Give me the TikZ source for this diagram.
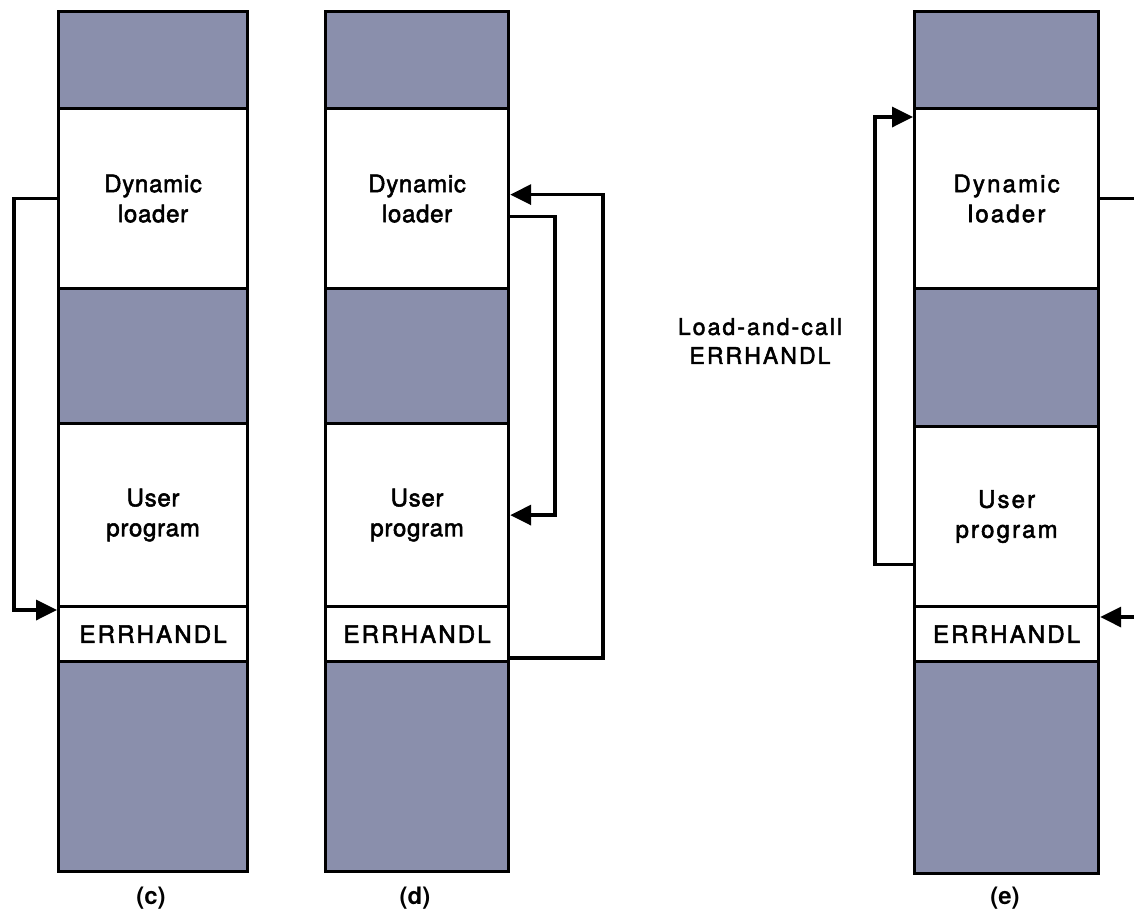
\documentclass[tikz,border=0pt]{standalone}
\usepackage{fontspec}
\setmainfont{TeX Gyre Heros}
\usetikzlibrary{arrows.meta}
\definecolor{memshade}{RGB}{138,143,172}
\tikzset{
  x=1pt, y=-1pt,
  seg/.style={draw=black, line width=3.2pt, anchor=north west, inner sep=0pt,
    minimum width=#1, align=center, font=\fontsize{24}{30}\selectfont\addfontfeatures{LetterSpace=3,FakeBold=2.2}},
  used/.style={seg=#1, fill=memshade},
  free/.style={seg=#1, fill=white},
  wide/.style={font=\fontsize{24}{30}\selectfont\addfontfeatures{LetterSpace=9,FakeBold=2.2}},
  conn/.style={draw=black, line width=3.5pt, line join=miter},
  arr/.style={conn, -{Triangle[length=21pt,width=20pt]}},
  caption/.style={font=\fontsize{24}{28}\selectfont\bfseries},
  note/.style={align=center, font=\fontsize{23}{29}\selectfont\addfontfeatures{LetterSpace=9,FakeBold=2.2}}
}
\begin{document}
\begin{tikzpicture}
\useasboundingbox (0,0) rectangle (1134,922);
\clip (0,0) rectangle (1134,922);
\fill[white] (0,0) rectangle (1134,922);

% column (c)
\node[used=189pt, minimum height=97pt]  (ctop) at (57,10)  {};
\node[free=189pt, minimum height=180pt] (cdl)  at (57,107) {Dynamic\\loader};
\node[used=189pt, minimum height=135pt] (cmid) at (57,287) {};
\node[free=189pt, minimum height=183pt] (cup)  at (57,422) {User\\program};
\node[free=189pt, minimum height=55pt, wide] (cerr) at (57,605) {ERRHANDL};
\node[used=189pt, minimum height=210pt] (cbot) at (57,660) {};
\node[caption] (lc) at (151,898) {(c)};

% column (d)
\node[used=183pt, minimum height=97pt]  (dtop) at (324,10)  {};
\node[free=183pt, minimum height=180pt] (ddl)  at (324,107) {Dynamic\\loader};
\node[used=183pt, minimum height=135pt] (dmid) at (324,287) {};
\node[free=183pt, minimum height=183pt] (dup)  at (324,422) {User\\program};
\node[free=183pt, minimum height=55pt, wide] (derr) at (324,605) {ERRHANDL};
\node[used=183pt, minimum height=210pt] (dbot) at (324,660) {};
\node[caption] (ld) at (415,898) {(d)};

% column (e)
\node[used=184pt, minimum height=97pt]  (etop) at (913,10)  {};
\node[free=184pt, minimum height=180pt, wide] (edl)  at (913,107) {Dynamic\\loader};
\node[used=184pt, minimum height=138pt] (emid) at (913,287) {};
\node[free=184pt, minimum height=180pt, wide] (eup)  at (913,425) {User\\program};
\node[free=184pt, minimum height=55pt, wide]  (eerr) at (913,605) {ERRHANDL};
\node[used=184pt, minimum height=212pt] (ebot) at (913,660) {};
\node[caption] (le) at (1005,898) {(e)};

\node[note] (call) at (760,341) {Load-and-call\\ERRHANDL};

% (c): loader transfers control to ERRHANDL
\draw[arr] (cdl.west) -- ++(-43,0) |- ([yshift=-5pt]cerr.north west);

% (d): ERRHANDL returns to the loader, loader returns to the user program
\draw[arr] ([yshift=5pt]derr.south east) -- ++(93,0) |- ([yshift=4pt]ddl.east);
\draw[arr] ([yshift=-18pt]ddl.east) -- ++(45,0) |- (dup.east);

% (e): user program calls the loader, loader calls ERRHANDL
\draw[arr] ([yshift=-48pt]eup.west) -- ++(-38,0) |- ([yshift=-10pt]edl.north west);
\coordinate (eout) at (1150,197);
\coordinate (ein)  at (1150,617);
\coordinate (ehit) at ([yshift=-12pt]eerr.north east);
\draw[conn] (edl.east) -- (edl.east -| eout);
\draw[arr] (ehit -| ein) -- (ehit);
\end{tikzpicture}
\end{document}
